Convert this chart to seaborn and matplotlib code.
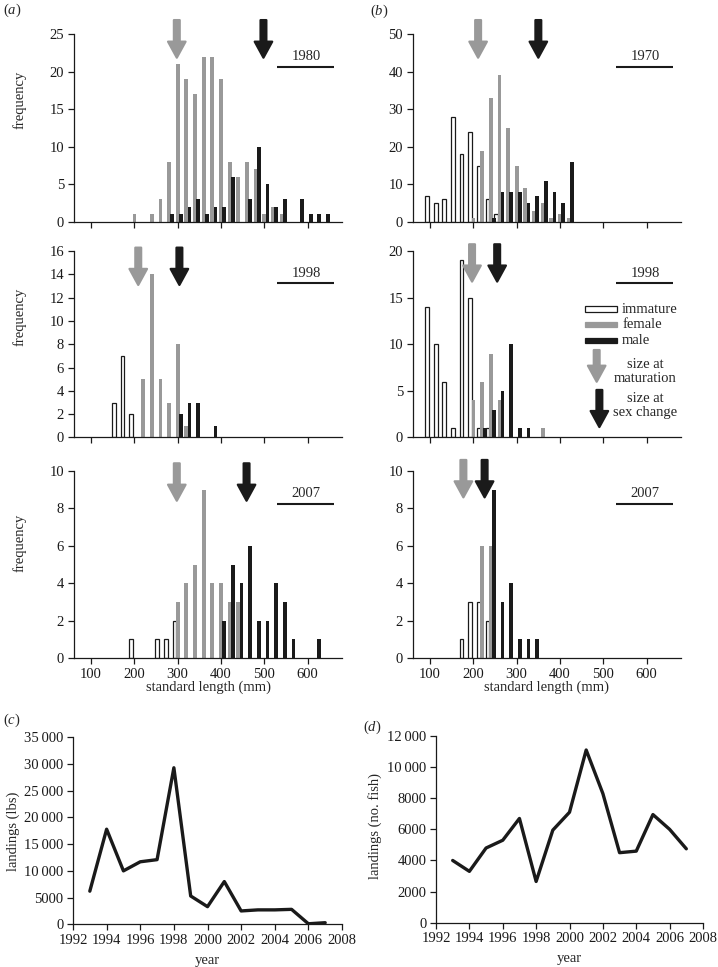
import matplotlib
matplotlib.use('Agg')
import matplotlib.pyplot as plt
from matplotlib.patches import Rectangle
from matplotlib.ticker import FuncFormatter
import pandas as pd
import seaborn as sns

# size classes (mm), one bar group per 20 mm class
length_bins = [100, 120, 140, 160, 180, 200, 220, 240, 260, 280, 300, 320, 340, 360,
               380, 400, 420, 440, 460, 480, 500, 520, 540, 560, 580, 600, 620, 640]

# (a) column
a1980_immature = [0, 0, 0, 0, 0, 0, 0, 0, 0, 0, 0, 0, 0, 0, 0, 0, 0, 0, 0, 0, 0, 0, 0, 0, 0, 0, 0, 0]
a1980_female = [0, 0, 0, 0, 0, 1, 0, 1, 3, 8, 21, 19, 17, 22, 22, 19, 8, 6, 8, 7, 1, 2, 1, 0, 0, 0, 0, 0]
a1980_male = [0, 0, 0, 0, 0, 0, 0, 0, 0, 1, 1, 2, 3, 1, 2, 2, 6, 0, 3, 10, 5, 2, 3, 0, 3, 1, 1, 1]

a1998_immature = [0, 0, 0, 3, 7, 2, 0, 0, 0, 0, 0, 0, 0, 0, 0, 0, 0, 0, 0, 0, 0, 0, 0, 0, 0, 0, 0, 0]
a1998_female = [0, 0, 0, 0, 0, 0, 5, 14, 5, 3, 8, 1, 0, 0, 0, 0, 0, 0, 0, 0, 0, 0, 0, 0, 0, 0, 0, 0]
a1998_male = [0, 0, 0, 0, 0, 0, 0, 0, 0, 0, 2, 3, 3, 0, 1, 0, 0, 0, 0, 0, 0, 0, 0, 0, 0, 0, 0, 0]

a2007_immature = [0, 0, 0, 0, 0, 1, 0, 0, 1, 1, 2, 0, 0, 0, 0, 0, 0, 0, 0, 0, 0, 0, 0, 0, 0, 0, 0, 0]
a2007_female = [0, 0, 0, 0, 0, 0, 0, 0, 0, 0, 3, 4, 5, 9, 4, 4, 3, 3, 0, 0, 0, 0, 0, 0, 0, 0, 0, 0]
a2007_male = [0, 0, 0, 0, 0, 0, 0, 0, 0, 0, 0, 0, 0, 0, 0, 2, 5, 4, 6, 2, 2, 4, 3, 1, 0, 0, 1, 0]

# (b) column
b1970_immature = [7, 5, 6, 28, 18, 24, 15, 6, 2, 0, 0, 0, 0, 0, 0, 0, 0, 0, 0, 0, 0, 0, 0, 0, 0, 0, 0, 0]
b1970_female = [0, 0, 0, 0, 0, 1, 19, 33, 39, 25, 15, 9, 3, 5, 1, 2, 1, 0, 0, 0, 0, 0, 0, 0, 0, 0, 0, 0]
b1970_male = [0, 0, 0, 0, 0, 0, 0, 1, 8, 8, 8, 5, 7, 11, 8, 5, 16, 0, 0, 0, 0, 0, 0, 0, 0, 0, 0, 0]

b1998_immature = [14, 10, 6, 1, 19, 15, 1, 1, 0, 0, 0, 0, 0, 0, 0, 0, 0, 0, 0, 0, 0, 0, 0, 0, 0, 0, 0, 0]
b1998_female = [0, 0, 0, 0, 0, 4, 6, 9, 4, 0, 0, 0, 0, 1, 0, 0, 0, 0, 0, 0, 0, 0, 0, 0, 0, 0, 0, 0]
b1998_male = [0, 0, 0, 0, 0, 0, 1, 3, 5, 10, 1, 1, 0, 0, 0, 0, 0, 0, 0, 0, 0, 0, 0, 0, 0, 0, 0, 0]

b2007_immature = [0, 0, 0, 0, 1, 3, 3, 2, 0, 0, 0, 0, 0, 0, 0, 0, 0, 0, 0, 0, 0, 0, 0, 0, 0, 0, 0, 0]
b2007_female = [0, 0, 0, 0, 0, 0, 6, 6, 0, 0, 0, 0, 0, 0, 0, 0, 0, 0, 0, 0, 0, 0, 0, 0, 0, 0, 0, 0]
b2007_male = [0, 0, 0, 0, 0, 0, 0, 9, 3, 4, 1, 1, 1, 0, 0, 0, 0, 0, 0, 0, 0, 0, 0, 0, 0, 0, 0, 0]

# arrows: size at maturation / size at sex change (mm)
a_maturation = [298, 209, 298]
a_sex_change = [498, 304, 459]
b_maturation = [211, 197, 177]
b_sex_change = [350, 255, 226]

a_years = ['1980', '1998', '2007']
b_years = ['1970', '1998', '2007']

# landings
years = [1993, 1994, 1995, 1996, 1997, 1998, 1999, 2000, 2001, 2002, 2003, 2004, 2005, 2006, 2007]
landings_lbs = [6200, 17800, 10000, 11700, 12100, 29300, 5300, 3300, 8000, 2500, 2700, 2700, 2800, 100, 300]
landings_fish = [4000, 3300, 4800, 5300, 6700, 2650, 5950, 7100, 11100, 8300, 4500, 4600, 6950, 6000, 4750]

stages = ['immature', 'female', 'male']
GREY = '#999999'
BLACK = '#1a1a1a'
stage_colors = {'immature': 'white', 'female': GREY, 'male': BLACK}

sns.set_style('ticks')
plt.rcParams['font.family'] = ['Liberation Serif', 'DejaVu Serif']
plt.rcParams['font.size'] = 10.5
plt.rcParams['mathtext.fontset'] = 'custom'
plt.rcParams['mathtext.rm'] = 'Liberation Serif'
plt.rcParams['mathtext.it'] = 'Liberation Serif:italic'
plt.rcParams['axes.edgecolor'] = BLACK
plt.rcParams['axes.linewidth'] = 0.9

W, H = 718, 967
fig = plt.figure(figsize=(W / 100, H / 100), dpi=100)


def px_axes(left, top, right, bottom):
    return fig.add_axes([left / W, 1 - bottom / H, (right - left) / W, (bottom - top) / H])


def style_axes(ax):
    sns.despine(ax=ax)
    ax.tick_params(direction='out', length=4, width=0.9, color=BLACK,
                   labelsize=10.5, pad=3, labelcolor=BLACK)


def arrow(ax, x, y_top, y_tip, color, coords):
    ax.annotate('', xy=(x, y_tip), xytext=(x, y_top), xycoords=coords, textcoords=coords,
                arrowprops=dict(arrowstyle='simple,head_length=1.1,head_width=1.2,tail_width=0.4',
                                fc=color, ec=color, lw=1.6, joinstyle='round',
                                shrinkA=0, shrinkB=0),
                annotation_clip=False)


def draw_hist(ax, imm, fem, male, ylim, yticks, year, mat, sexc, arrow_top, bottom_row):
    n = len(length_bins)
    df = pd.DataFrame({
        'length': length_bins * 3,
        'count': imm + fem + male,
        'stage': ['immature'] * n + ['female'] * n + ['male'] * n,
    })
    df = df[df['count'] > 0]
    sns.barplot(data=df, x='length', y='count', hue='stage', hue_order=stages,
                palette=stage_colors, native_scale=True, dodge=True, width=1.05,
                errorbar=None, saturation=1, legend=False, orient='x',
                linewidth=0, ax=ax)
    bar_w = 8.5
    for p in ax.patches:
        cx = p.get_x() + p.get_width() / 2
        p.set_width(bar_w)
        p.set_x(cx - bar_w / 2)
        if p.get_facecolor()[0] > 0.95:
            p.set_edgecolor(BLACK)
            p.set_linewidth(0.9)
    ax.set_xlim(60, 680)
    ax.set_xticks([100, 200, 300, 400, 500, 600])
    ax.set_ylim(*ylim)
    ax.set_yticks(yticks)
    ax.set_ylabel('')
    ax.set_xlabel('')
    style_axes(ax)
    if bottom_row:
        ax.set_xlabel('standard length (mm)', fontsize=10.5, labelpad=0)
    else:
        ax.tick_params(labelbottom=False)
    tr = ax.get_xaxis_transform()
    ax.plot([530, 660], [0.826, 0.826], transform=tr, color=BLACK, lw=1.5,
            clip_on=False, solid_capstyle='butt')
    ax.text(596, 0.882, year, transform=tr, ha='center', va='center', fontsize=10.5)
    arrow(ax, mat, arrow_top, arrow_top - 0.2, GREY, tr)
    arrow(ax, sexc, arrow_top, arrow_top - 0.2, BLACK, tr)


rows = [(34, 222), (251, 437.5), (471, 658)]
a_cols = (73.7, 342.3)
b_cols = (412.7, 681.3)

a_data = [(a1980_immature, a1980_female, a1980_male),
          (a1998_immature, a1998_female, a1998_male),
          (a2007_immature, a2007_female, a2007_male)]
b_data = [(b1970_immature, b1970_female, b1970_male),
          (b1998_immature, b1998_female, b1998_male),
          (b2007_immature, b2007_female, b2007_male)]

a_ylims = [(0, 25), (0, 16), (0, 10)]
a_yticks = [[0, 5, 10, 15, 20, 25], [0, 2, 4, 6, 8, 10, 12, 14, 16], [0, 2, 4, 6, 8, 10]]
b_ylims = [(0, 50), (0, 20), (0, 10)]
b_yticks = [[0, 10, 20, 30, 40, 50], [0, 5, 10, 15, 20], [0, 2, 4, 6, 8, 10]]
a_arrow_top = [1.074, 1.018, 1.041]
b_arrow_top = [1.074, 1.036, 1.059]

hist_axes = []
for i, (top, bottom) in enumerate(rows):
    ax_a = px_axes(a_cols[0], top, a_cols[1], bottom)
    draw_hist(ax_a, *a_data[i], a_ylims[i], a_yticks[i], a_years[i],
              a_maturation[i], a_sex_change[i], a_arrow_top[i], i == 2)
    ax_b = px_axes(b_cols[0], top, b_cols[1], bottom)
    draw_hist(ax_b, *b_data[i], b_ylims[i], b_yticks[i], b_years[i],
              b_maturation[i], b_sex_change[i], b_arrow_top[i], i == 2)
    hist_axes.append((ax_a, ax_b))

# y labels of the histogram column
for yc in [100, 317, 543]:
    fig.text(20 / W, 1 - yc / H, 'frequency', rotation=90, ha='center', va='center', fontsize=10.5)

# legend drawn inside the (b) 1998 panel
lg = hist_axes[1][1]
lt = lg.transAxes
for (y0, h), stage in zip([(0.671, 0.034), (0.594, 0.027), (0.507, 0.027)], stages):
    rect = Rectangle((0.6415, y0), 0.12, h, transform=lt, clip_on=False,
                     facecolor=stage_colors[stage],
                     edgecolor=BLACK if stage == 'immature' else stage_colors[stage],
                     linewidth=0.9)
    lg.add_patch(rect)
    lg.text(0.78, y0 + h / 2, stage, transform=lt, ha='left', va='center', fontsize=10.5)
arrow(lg, 0.685, 0.469, 0.299, GREY, lt)
arrow(lg, 0.695, 0.255, 0.056, BLACK, lt)
lg.text(0.865, 0.392, 'size at', transform=lt, ha='center', va='center', fontsize=10.5)
lg.text(0.865, 0.317, 'maturation', transform=lt, ha='center', va='center', fontsize=10.5)
lg.text(0.865, 0.210, 'size at', transform=lt, ha='center', va='center', fontsize=10.5)
lg.text(0.865, 0.133, 'sex change', transform=lt, ha='center', va='center', fontsize=10.5)


def thousands(v, _):
    v = int(round(v))
    if v >= 10000:
        return f'{v:,}'.replace(',', '\u2009')
    return str(v)


# (c) landings in lbs
ax_c = px_axes(73, 737.3, 342, 924.3)
sns.lineplot(x=years, y=landings_lbs, ax=ax_c, color=BLACK, linewidth=2.4)
ax_c.set_xlim(1992, 2008)
ax_c.set_xticks([1992, 1994, 1996, 1998, 2000, 2002, 2004, 2006, 2008])
ax_c.set_ylim(0, 35000)
ax_c.set_yticks([0, 5000, 10000, 15000, 20000, 25000, 30000, 35000])
ax_c.yaxis.set_major_formatter(FuncFormatter(thousands))
style_axes(ax_c)
ax_c.set_xlabel('year', fontsize=10.5, labelpad=5)
ax_c.set_ylabel('')
fig.text(13 / W, 1 - 831 / H, 'landings (lbs)', rotation=90, ha='center', va='center', fontsize=10.5)

# (d) landings in number of fish
ax_d = px_axes(436, 736, 703, 922.7)
sns.lineplot(x=years, y=landings_fish, ax=ax_d, color=BLACK, linewidth=2.4)
ax_d.set_xlim(1992, 2008)
ax_d.set_xticks([1992, 1994, 1996, 1998, 2000, 2002, 2004, 2006, 2008])
ax_d.set_ylim(0, 12000)
ax_d.set_yticks([0, 2000, 4000, 6000, 8000, 10000, 12000])
ax_d.yaxis.set_major_formatter(FuncFormatter(thousands))
style_axes(ax_d)
ax_d.set_xlabel('year', fontsize=10.5, labelpad=5)
ax_d.set_ylabel('')
fig.text(375 / W, 1 - 826 / H, 'landings (no. fish)', rotation=90, ha='center', va='center', fontsize=10.5)

# panel letters
for x, y, letter in [(3, 10, 'a'), (370, 11, 'b'), (3, 720, 'c'), (363, 727, 'd')]:
    fig.text(x / W, 1 - y / H, '($\\mathit{%s}$)' % letter, ha='left', va='center', fontsize=10.5)

fig.savefig('out.png', dpi=100)
